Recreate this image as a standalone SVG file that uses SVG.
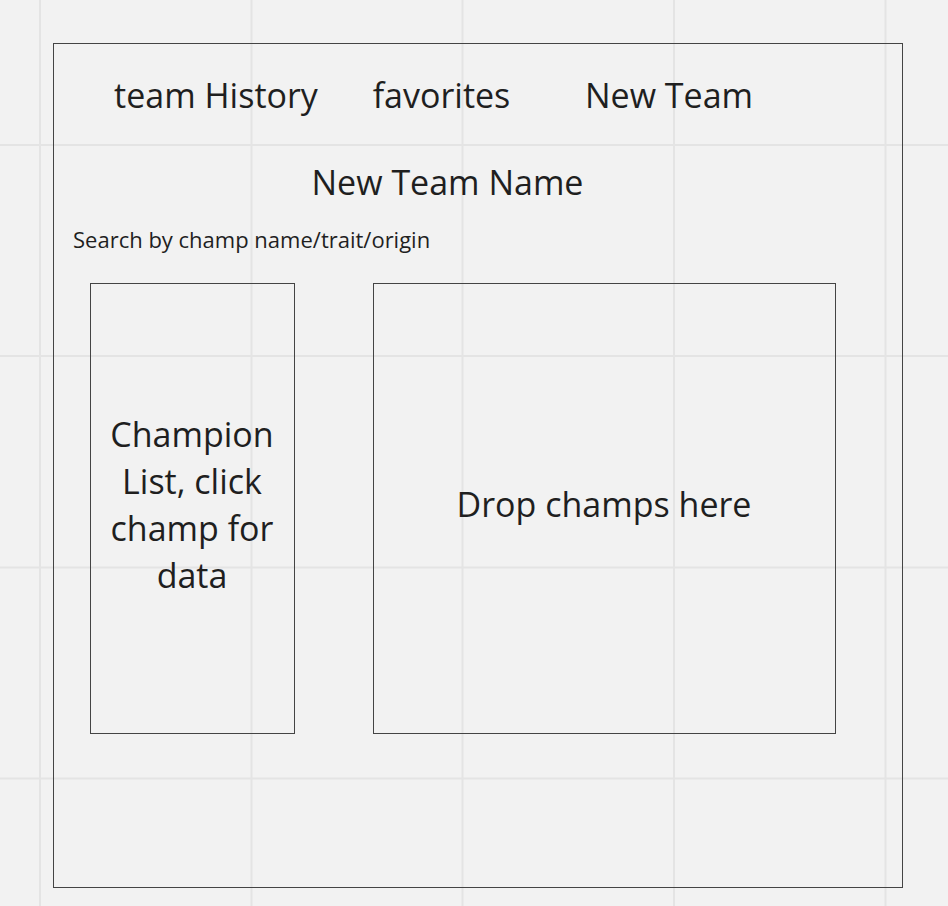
<svg xmlns="http://www.w3.org/2000/svg" width="948" height="906" viewBox="0 0 948 906">
<style>
.grid{stroke:#e4e4e4;stroke-width:2}
.box{fill:none;stroke:#444;stroke-width:1}
text{font-family:"Open Sans","Noto Sans","Liberation Sans",sans-serif;fill:#1f1f1f;text-anchor:middle}
.big{font-size:34px}
.sm{font-size:22px;text-anchor:start}
</style>
<rect width="948" height="906" fill="#f2f2f2"/>
<g id="grid">
<line class="grid" x1="40" y1="0" x2="40" y2="906"/>
<line class="grid" x1="251.5" y1="0" x2="251.5" y2="906"/>
<line class="grid" x1="462.5" y1="0" x2="462.5" y2="906"/>
<line class="grid" x1="674" y1="0" x2="674" y2="906"/>
<line class="grid" x1="885.5" y1="0" x2="885.5" y2="906"/>
<line class="grid" x1="0" y1="145" x2="948" y2="145"/>
<line class="grid" x1="0" y1="356" x2="948" y2="356"/>
<line class="grid" x1="0" y1="567.5" x2="948" y2="567.5"/>
<line class="grid" x1="0" y1="778.5" x2="948" y2="778.5"/>
</g>
<g id="frame"><rect class="box" x="53.5" y="43.5" width="849" height="844"/></g>
<g id="nav-history"><text class="big" x="216" y="108">team History</text></g>
<g id="nav-favorites"><text class="big" x="441.5" y="108">favorites</text></g>
<g id="nav-newteam"><text class="big" x="669" y="108">New Team</text></g>
<g id="team-name"><text class="big" x="447.5" y="195">New Team Name</text></g>
<g id="search"><text class="sm" x="73" y="248">Search by champ name/trait/origin</text></g>
<g id="champ-list">
<rect class="box" x="90.5" y="283.5" width="204" height="450"/>
<text class="big" x="192" y="447">Champion</text>
<text class="big" x="192" y="494">List, click</text>
<text class="big" x="192" y="541">champ for</text>
<text class="big" x="192" y="588">data</text>
</g>
<g id="drop-area">
<rect class="box" x="373.5" y="283.5" width="462" height="450"/>
<text class="big" x="604" y="517">Drop champs here</text>
</g>
<g id="connectors"/>
</svg>
